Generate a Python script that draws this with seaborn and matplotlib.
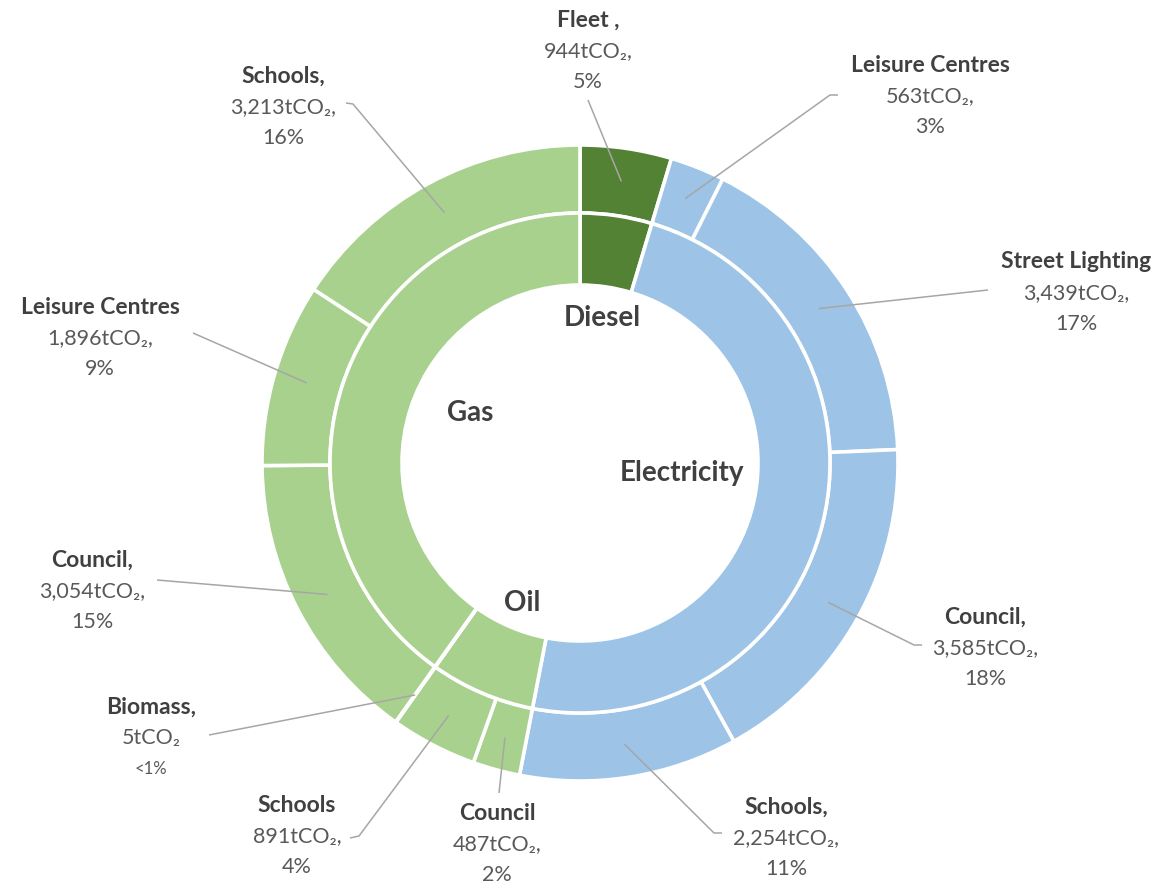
import matplotlib
matplotlib.use("Agg")
import matplotlib.pyplot as plt
import seaborn as sns
import numpy as np

# ---------------- data ----------------
sources = ["Fleet ,", "Leisure Centres", "Street Lighting", "Council,", "Schools,",
           "Council", "Schools", "Biomass,", "Council,", "Leisure Centres", "Schools,"]
emissions = [944, 563, 3439, 3585, 2254, 487, 891, 5, 3054, 1896, 3213]
fuels = ["Diesel", "Electricity", "Electricity", "Electricity", "Electricity",
         "Oil", "Oil", "Biomass", "Gas", "Gas", "Gas"]
value_suffix = [",", ",", ",", ",", ",", ",", ",", "", ",", ",", ","]
fuel_order = ["Diesel", "Electricity", "Oil", "Biomass", "Gas"]
fuel_names = ["Diesel", "Electricity", "Oil", "", "Gas"]

# ---------------- style ----------------
sns.set_theme(style="white")
plt.rcParams["font.family"] = ["Lato", "DejaVu Sans"]

fuel_colors = {"Diesel": "#548235", "Electricity": "#9DC3E6", "Oil": "#A9D18E",
               "Biomass": "#A9D18E", "Gas": "#A9D18E"}

W, H = 1171, 890
CX, CY = 580, 463          # pixel centre
R_OUT, R_MID, R_IN = 318, 250, 178


def px(x, y):
    return (x - CX) / R_OUT, (CY - y) / R_OUT


fig = plt.figure(figsize=(W / 100, H / 100), dpi=100)
fig.patch.set_facecolor("white")
ax = fig.add_axes([0, 0, 1, 1])

total = sum(emissions)
fuel_totals = [sum(e for e, f in zip(emissions, fuels) if f == fo) for fo in fuel_order]

wp = dict(edgecolor="white", linewidth=2.6)
ax.pie(emissions, radius=1.0, startangle=90, counterclock=False,
       colors=[fuel_colors[f] for f in fuels],
       wedgeprops=dict(width=(R_OUT - R_MID) / R_OUT, **wp))
ax.pie(fuel_totals, radius=R_MID / R_OUT, startangle=90, counterclock=False,
       colors=[fuel_colors[f] for f in fuel_order],
       wedgeprops=dict(width=(R_MID - R_IN) / R_OUT, **wp))

ax.set_xlim(-CX / R_OUT, (W - CX) / R_OUT)
ax.set_ylim((CY - H) / R_OUT, CY / R_OUT)
ax.set_aspect("equal")
ax.axis("off")

# ---------------- inner (fuel) labels ----------------
fuel_label_pos = {"Diesel": (602, 318), "Electricity": (682, 473),
                  "Gas": (470, 413), "Oil": (522, 603)}
for fo, name in zip(fuel_order, fuel_names):
    if not name:
        continue
    x, y = px(*fuel_label_pos[fo])
    ax.text(x, y, name, ha="center", va="center", fontsize=20,
            fontweight="bold", color="#404040")

# ---------------- outer labels ----------------
# text block centre x, first line y (pixels)
label_pos = [(588, 20), (930, 65), (1076, 262), (985, 617), (786, 807),
             (497, 813), (297, 805), (151, 707), (92, 560), (100, 307), (283, 76)]
# leader line: text-side points (pixels)
leader_start = [[(588, 100)],
                [(838, 95), (830, 95)],
                [(988, 290)],
                [(922, 645), (914, 645)],
                [(722, 833), (714, 833)],
                [(499, 793)],
                [(350, 838), (359, 836)],
                [(209, 735)],
                [(157, 580)],
                [(193, 333)],
                [(346, 103), (353, 104)]]
line_gap = 31

cum = np.cumsum([0] + emissions)
for i, (src, val) in enumerate(zip(sources, emissions)):
    share = val / total * 100
    pct = "<1%" if share < 1 else f"{share:.0f}%"
    vtxt = f"{val:,}tCO\u2082{value_suffix[i]}"
    bx, by = label_pos[i]
    x0, y0 = px(bx, by)
    x1, y1 = px(bx, by + line_gap)
    x2, y2 = px(bx, by + 2 * line_gap)
    ax.text(x0, y0, src, ha="center", va="center", fontsize=16.5,
            fontweight="bold", color="#404040")
    ax.text(x1, y1, vtxt, ha="center", va="center", fontsize=15.5,
            color="#595959")
    ax.text(x2, y2, pct, ha="center", va="center",
            fontsize=12 if share < 1 else 15.5, color="#595959")

    # leader line to slice middle
    mid = (cum[i] + cum[i + 1]) / 2 / total
    ang = np.pi / 2 - 2 * np.pi * mid
    r = 0.895
    pts = [px(*p) for p in leader_start[i]] + [(r * np.cos(ang), r * np.sin(ang))]
    xs, ys = zip(*pts)
    ax.plot(xs, ys, color="#a6a6a6", lw=1.1, solid_capstyle="butt")

fig.savefig("out.png", dpi=100, facecolor="white")
